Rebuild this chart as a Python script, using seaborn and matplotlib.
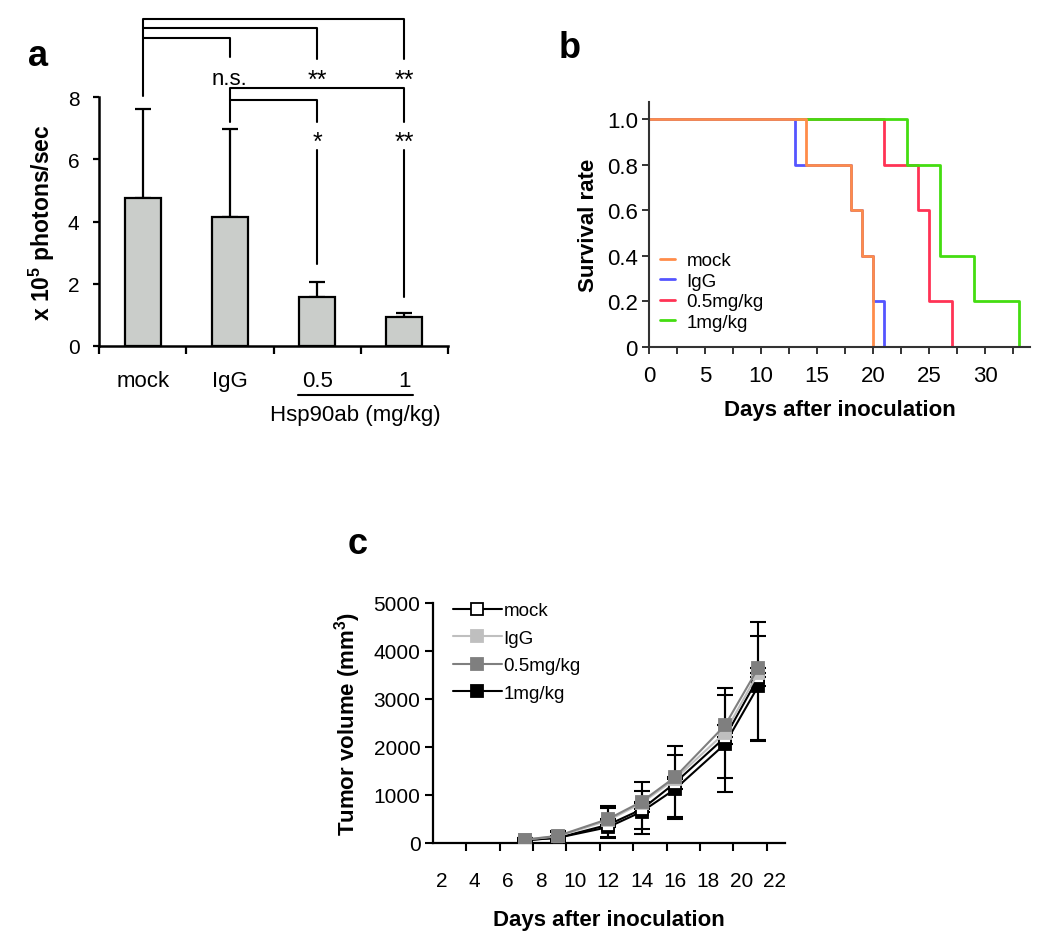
import numpy as np
import matplotlib
matplotlib.use("Agg")
import matplotlib.pyplot as plt
import seaborn as sns

# ===== DATA =====
# panel a : bioluminescence
groupes = ["mock", "IgG", "0.5", "1"]
photons = [4.75, 4.15, 1.58, 0.93]
photons_err = [2.88, 2.83, 0.48, 0.14]

# panel b : survival (Kaplan-Meier steps)
surv_mock_t = [0, 14, 18, 19, 20]
surv_mock_s = [1.0, 0.8, 0.6, 0.4, 0.0]
surv_igg_t = [0, 13, 18, 19, 20, 21]
surv_igg_s = [1.0, 0.8, 0.6, 0.4, 0.2, 0.0]
surv_05_t = [0, 21, 24, 25, 27]
surv_05_s = [1.0, 0.8, 0.6, 0.2, 0.0]
surv_1_t = [0, 23, 26, 29, 33]
surv_1_s = [1.0, 0.8, 0.4, 0.2, 0.0]

# panel c : tumor volume
jours = [7, 9, 12, 14, 16, 19, 21]
vol_mock = [60, 110, 380, 700, 1250, 2200, 3450]
vol_igg = [70, 140, 470, 830, 1330, 2300, 3550]
vol_05 = [70, 150, 500, 860, 1370, 2450, 3650]
vol_1 = [55, 110, 330, 650, 1120, 2060, 3270]
# error bars (lower, upper)
err_mock = ([30, 60, 260, 410, 700, 850, 1300], [0, 0, 0, 0, 0, 0, 0])
err_igg = ([0, 0, 0, 0, 0, 0, 0], [30, 80, 250, 260, 510, 780, 760])
err_05 = ([0, 0, 0, 0, 0, 0, 0], [30, 90, 280, 420, 650, 780, 950])
err_1 = ([30, 50, 230, 460, 620, 990, 1150], [0, 0, 0, 0, 0, 0, 0])

# ===== STYLE =====
sns.set_style("ticks")
plt.rcParams["font.family"] = ["Liberation Sans", "DejaVu Sans"]
plt.rcParams["mathtext.fontset"] = "custom"
plt.rcParams["mathtext.rm"] = "Liberation Sans"
plt.rcParams["mathtext.bf"] = "Liberation Sans:bold"
for k in ["text.color", "axes.labelcolor", "xtick.color", "ytick.color",
          "axes.edgecolor"]:
    plt.rcParams[k] = "black"

W, H = 1050, 937
fig = plt.figure(figsize=(W / 100, H / 100), dpi=100)


def box(x0, y0, x1, y1):
    # pixel box -> figure fraction [left, bottom, width, height]
    return [x0 / W, 1 - y1 / H, (x1 - x0) / W, (y1 - y0) / H]


# ===== PANEL A =====
ax_a = fig.add_axes(box(99, 98, 448, 347))
sns.barplot(x=groupes, y=photons, color="#c9cdc9", edgecolor="black",
            linewidth=1.6, width=0.41, errorbar=None, ax=ax_a, zorder=3)
ax_a.errorbar(range(4), photons, yerr=[np.zeros(4), photons_err], fmt="none",
              ecolor="black", elinewidth=1.6, capsize=6, capthick=1.6, zorder=2)
ax_a.set_xlim(-0.5, 3.5)
ax_a.set_ylim(0, 8)
ax_a.set_yticks([0, 2, 4, 6, 8])
ax_a.set_xticks([-0.5, 0.5, 1.5, 2.5, 3.5], labels=[""] * 5)
ax_a.set_xticks(range(4), labels=groupes, minor=True)
ax_a.tick_params(axis="x", which="major", length=6, width=1.6, direction="out")
ax_a.tick_params(axis="x", which="minor", length=0, pad=17, labelsize=16)
ax_a.tick_params(axis="y", length=4, width=1.6, pad=10, labelsize=15)
ax_a.set_xlabel("")
ax_a.set_ylabel(r"x 10$^{\mathbf{5}}$ photons/sec", fontsize=16.5,
                fontweight="bold", labelpad=8)
sns.despine(ax=ax_a)
for s in ["left", "bottom"]:
    ax_a.spines[s].set_linewidth(1.8)

lk = dict(color="black", lw=1.5, clip_on=False)
# brackets vs mock
ax_a.plot([0, 0, 3, 3], [8.03, 10.49, 10.49, 9.23], **lk)
ax_a.plot([0, 2, 2], [10.21, 10.21, 9.23], **lk)
ax_a.plot([0, 1, 1], [9.9, 9.9, 9.28], **lk)
# brackets vs IgG
ax_a.plot([1, 1, 3, 3], [7.19, 8.28, 8.28, 7.19], **lk)
ax_a.plot([1, 2, 2], [7.89, 7.89, 7.2], **lk)
ax_a.plot([2, 2], [6.31, 2.64], **lk)
ax_a.plot([3, 3], [6.31, 1.57], **lk)
for x, y, t, fs in [(1, 8.6, "n.s.", 16), (2, 8.55, "**", 18), (3, 8.55, "**", 18),
                    (2, 6.55, "*", 18), (3, 6.55, "**", 18)]:
    ax_a.text(x, y, t, ha="center", va="center", fontsize=fs)
ax_a.plot([1.78, 3.1], [-1.58, -1.58], **lk)
ax_a.text(2.44, -2.2, "Hsp90ab (mg/kg)", ha="center", va="center", fontsize=16)
fig.text(38 / W, 1 - 57 / H, "a", fontsize=26, fontweight="bold",
         ha="center", va="center")

# ===== PANEL B =====
ax_b = fig.add_axes(box(649, 103, 1030, 348))
series_b = [
    (surv_05_t, surv_05_s, "0.5mg/kg", "#ff3355"),
    (surv_1_t, surv_1_s, "1mg/kg", "#44dd11"),
    (surv_igg_t, surv_igg_s, "IgG", "#5555ff"),
    (surv_mock_t, surv_mock_s, "mock", "#ff8c4a"),
]
for t, s, lab, c in series_b:
    sns.lineplot(x=t, y=s, drawstyle="steps-post", color=c, linewidth=2,
                 label=lab, ax=ax_b, estimator=None, sort=False)
ax_b.set_xlim(0, 34)
ax_b.set_ylim(0, 1.076)
ax_b.set_xticks([0, 5, 10, 15, 20, 25, 30])
ax_b.set_xticks(np.arange(2.5, 34, 5), minor=True)
ax_b.set_yticks([0, 0.2, 0.4, 0.6, 0.8, 1.0],
                labels=["0", "0.2", "0.4", "0.6", "0.8", "1.0"])
ax_b.tick_params(axis="both", which="both", length=5, width=1.4,
                 direction="out", labelsize=16, color="#333333")
ax_b.tick_params(axis="x", pad=8)
ax_b.tick_params(axis="y", pad=3)
ax_b.set_xlabel("Days after inoculation", fontsize=16, fontweight="bold",
                labelpad=9)
ax_b.set_ylabel("Survival rate", fontsize=16, fontweight="bold", labelpad=6)
sns.despine(ax=ax_b)
for s in ["left", "bottom"]:
    ax_b.spines[s].set_linewidth(1.5)
    ax_b.spines[s].set_color("#333333")
h, l = ax_b.get_legend_handles_labels()
order = [3, 2, 0, 1]
ax_b.legend([h[i] for i in order], [l[i] for i in order], loc="lower left",
            bbox_to_anchor=(0.01, 0.035), borderaxespad=0, frameon=False,
            fontsize=13.5, handlelength=0.8, handletextpad=0.6,
            labelspacing=0.18)
fig.text(570 / W, 1 - 48 / H, "b", fontsize=26, fontweight="bold",
         ha="center", va="center")

# ===== PANEL C =====
ax_c = fig.add_axes(box(433, 604, 785, 844))
series_c = [
    (vol_1, err_1, "1mg/kg", "black", "black", "black"),
    (vol_mock, err_mock, "mock", "black", "white", "black"),
    (vol_igg, err_igg, "IgG", "#bfbfbf", "#bfbfbf", "#bfbfbf"),
    (vol_05, err_05, "0.5mg/kg", "#7f7f7f", "#7f7f7f", "#7f7f7f"),
]
for v, e, lab, lc, fc, ec in series_c:
    ax_c.errorbar(jours, v, yerr=e, fmt="none", ecolor="black",
                  elinewidth=1.5, capsize=6, capthick=1.5, zorder=2)
for v, e, lab, lc, fc, ec in series_c:
    sns.lineplot(x=jours, y=v, color=lc, marker="s", markersize=9,
                 markerfacecolor=fc, markeredgecolor=ec, markeredgewidth=1.3,
                 linewidth=1.5, label=lab, ax=ax_c, zorder=3)
ax_c.set_xlim(1.5, 22.6)
ax_c.set_ylim(0, 5000)
ax_c.set_xticks(range(2, 23, 2))
ax_c.set_xticks(np.arange(3.5, 22.6, 2), minor=True)
ax_c.set_yticks(range(0, 5001, 1000))
ax_c.tick_params(axis="x", which="major", length=0, pad=20, labelsize=15)
ax_c.tick_params(axis="x", which="minor", length=6, width=1.5, direction="out")
ax_c.tick_params(axis="y", length=6, width=1.5, direction="out", pad=3,
                 labelsize=15)
ax_c.set_xlabel("Days after inoculation", fontsize=16, fontweight="bold",
                labelpad=14)
ax_c.set_ylabel(r"Tumor volume (mm$^{\mathbf{3}}$)", fontsize=16,
                fontweight="bold", labelpad=8)
sns.despine(ax=ax_c)
for s in ["left", "bottom"]:
    ax_c.spines[s].set_linewidth(1.6)
h, l = ax_c.get_legend_handles_labels()
order = [1, 2, 3, 0]
ax_c.legend([h[i] for i in order], [l[i] for i in order], loc="upper left",
            bbox_to_anchor=(0.035, 1.035), borderaxespad=0, frameon=False,
            fontsize=13.5, handlelength=2.6, handletextpad=0.1,
            labelspacing=0.55)
fig.text(358 / W, 1 - 545 / H, "c", fontsize=26, fontweight="bold",
         ha="center", va="center")

fig.savefig("out.png", dpi=100)
